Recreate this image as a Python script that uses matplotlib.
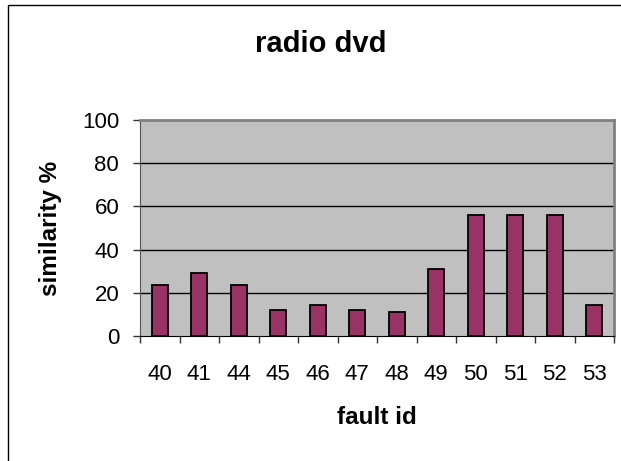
"""Similarity per fault id for the radio dvd case, drawn as an Excel-style
column chart into out.png."""
import matplotlib

matplotlib.use("Agg")
import matplotlib.pyplot as plt
from matplotlib.patches import Rectangle

plt.rcParams["font.family"] = ["Liberation Sans", "DejaVu Sans"]

FAULT_IDS = ["40", "41", "44", "45", "46", "47", "48", "49", "50", "51", "52", "53"]
SIMILARITY = [23.5, 29, 23.5, 12, 14.5, 12, 11, 31, 56, 56, 56, 14.5]
Y_TICKS = [0, 20, 40, 60, 80, 100]

PLUM = "#993366"
PLOT_BG = "#c0c0c0"


def render():
    fig = plt.figure(figsize=(6.21, 4.61), dpi=100)
    fig.patch.set_facecolor("white")

    # Chart-area frame; its right and bottom edges sit past the canvas.
    fig.patches.append(Rectangle((8 / 621, -0.2), 1.2, 1.2 - 5 / 461,
                                 transform=fig.transFigure, fill=False,
                                 edgecolor="black", linewidth=1.0))

    ax = fig.add_axes([140 / 621, 1 - 336 / 461, 474 / 621, 216 / 461])
    ax.set_facecolor(PLOT_BG)

    x = range(len(FAULT_IDS))
    ax.bar(x, SIMILARITY, width=0.4, color=PLUM, edgecolor="black",
           linewidth=1.3, zorder=3)

    ax.set_xlim(-0.5, len(FAULT_IDS) - 0.5)
    ax.set_ylim(0, 100)
    ax.set_yticks(Y_TICKS)
    ax.set_xticks(list(x))
    ax.set_xticklabels(FAULT_IDS)
    # tick marks between categories, labels under each column
    ax.set_xticks([i - 0.5 for i in range(len(FAULT_IDS) + 1)], minor=True)
    ax.tick_params(axis="x", which="major", length=0, pad=20, labelsize=16)
    ax.tick_params(axis="x", which="minor", length=5, width=1, color="#333333",
                   direction="out")
    ax.tick_params(axis="y", length=5, width=1, color="#333333", pad=10,
                   labelsize=16, direction="out")

    for v in Y_TICKS[1:-1]:
        ax.axhline(v, color="black", linewidth=1.0, zorder=1)

    ax.spines["top"].set_color("#808080")
    ax.spines["top"].set_linewidth(2)
    ax.spines["right"].set_color("#808080")
    ax.spines["right"].set_linewidth(2)
    ax.spines["left"].set_color("#555555")
    ax.spines["bottom"].set_color("black")
    ax.spines["bottom"].set_zorder(4)

    ax.set_xlabel("fault id", fontsize=17.5, fontweight="bold", va="center")
    ax.xaxis.set_label_coords(0.5, -0.375)
    ax.set_ylabel("similarity %", fontsize=17.5, fontweight="bold", va="center")
    ax.yaxis.set_label_coords(-0.188, 0.5)

    fig.text(321 / 621, 1 - 44 / 461, "radio dvd", fontsize=21,
             fontweight="bold", ha="center", va="center")

    fig.savefig("out.png", dpi=100)
    plt.close(fig)


if __name__ == "__main__":
    render()
